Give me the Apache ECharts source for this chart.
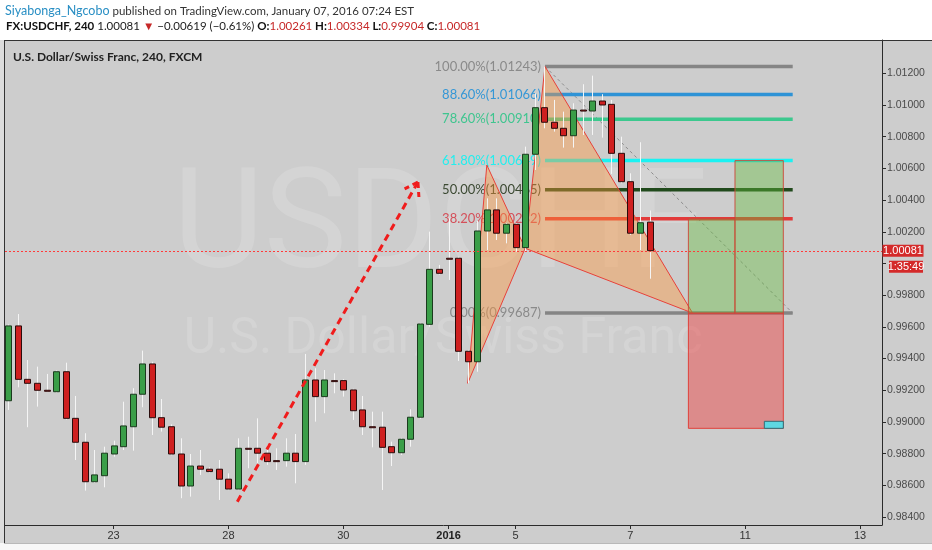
<!DOCTYPE html>
<html><head><meta charset="utf-8">
<script src="https://cdn.jsdelivr.net/npm/echarts@6/dist/echarts.min.js"></script>
<style>html,body{margin:0;padding:0;background:#fff}#c{width:932px;height:550px}</style>
</head><body><div id="c"></div>
<script>
// ---- Data (4h USDCHF candles) ----
const opens  = [0.99134,0.99606,0.99269,0.99244,0.99200,0.99191,0.99317,0.99023,0.98872,0.98623,
                0.98661,0.98798,0.98844,0.98970,0.99175,0.99366,0.99027,0.98970,0.98798,0.98596,
                0.98722,0.98702,0.98702,0.98639,0.98577,0.98834,0.98834,0.98803,0.98756,0.98756,
                0.98803,0.98750,0.99265,0.99160,0.99261,0.99261,0.99202,0.99076,0.98970,0.98967,
                0.98844,0.98806,0.98891,0.99030,0.99616,0.99963,1.00033,1.00033,0.99446,0.99380,
                1.00205,1.00338,1.00191,1.00247,1.00100,1.00689,1.00983,1.00891,1.00853,1.00806,
                1.00968,1.00962,1.01025,1.01004,1.00695,1.00516,1.00191,1.00261];
const highs  = [0.99615,0.99681,0.99391,0.99349,0.99303,0.99325,0.99374,0.99164,0.98929,0.98823,
                0.98844,0.98882,0.99128,0.99213,0.99450,0.99380,0.99145,0.98985,0.98897,0.98798,
                0.98823,0.98714,0.98760,0.98676,0.98897,0.98907,0.99023,0.98855,0.98834,0.98897,
                0.98924,0.99429,0.99339,0.99328,0.99307,0.99270,0.99210,0.99164,0.99065,0.99065,
                0.98876,0.98900,0.99080,0.99625,1.00201,0.99991,1.00285,1.00043,0.99455,1.00268,
                1.00411,1.00411,1.00255,1.00255,1.00737,1.01074,1.01243,1.01032,1.00958,1.01011,
                1.01131,1.01185,1.01068,1.01032,1.00800,1.00569,1.00765,1.00334];
const lows   = [0.99076,0.99219,0.98967,0.99097,0.99191,0.99185,0.99015,0.98760,0.98567,0.98615,
                0.98588,0.98781,0.98823,0.98819,0.99093,0.98918,0.98939,0.98790,0.98519,0.98529,
                0.98666,0.98680,0.98508,0.98570,0.98570,0.98708,0.98740,0.98729,0.98697,0.98718,
                0.98613,0.98729,0.99002,0.99055,0.99181,0.99160,0.99013,0.98918,0.98840,0.98571,
                0.98722,0.98792,0.98844,0.99020,0.99601,0.99930,0.99896,0.99385,0.99244,0.99317,
                1.00085,1.00148,1.00127,1.00074,1.00074,1.00590,1.00853,1.00832,1.00731,1.00731,
                1.00811,1.00811,1.00794,1.00565,1.00506,1.00180,1.00085,0.99904];
const closes = [0.99606,0.99269,0.99244,0.99200,0.99197,0.99317,0.99023,0.98872,0.98623,0.98666,
                0.98803,0.98849,0.98975,0.99175,0.99366,0.99027,0.98967,0.98798,0.98596,0.98722,
                0.98702,0.98687,0.98639,0.98577,0.98834,0.98830,0.98803,0.98750,0.98753,0.98803,
                0.98750,0.99265,0.99160,0.99265,0.99258,0.99202,0.99071,0.98970,0.98967,0.98840,
                0.98806,0.98891,0.99030,0.99618,0.99963,0.99938,1.00030,0.99446,0.99380,1.00205,
                1.00338,1.00191,1.00247,1.00100,1.00689,1.00983,1.00891,1.00853,1.00806,1.00968,
                1.00965,1.01025,1.01000,1.00695,1.00516,1.00191,1.00257,1.00081];

// x-axis day labels (bar index of the label) and price ticks
const xTickIdx    = [11, 23, 35, 46, 53, 65, 77, 89];
const xTickLabels = ['23', '28', '30', '2016', '5', '7', '11', '13'];
const yTicks = [0.984,0.986,0.988,0.990,0.992,0.994,0.996,0.998,1.000,1.002,1.004,1.006,1.008,1.010,1.012];

// Fibonacci retracement
const fibLevels = [1, 0.886, 0.786, 0.618, 0.5, 0.382, 0];
const fibPrices = [1.01243, 1.01066, 1.00910, 1.00649, 1.00465, 1.00282, 0.99687];
const fibSpan   = [56.08, 81.96];

// XABCD harmonic pattern points (bar index, price)
const patternIdx   = [48, 50, 54, 56.08, 71.5];
const patternPrice = [0.99244, 1.00621, 1.00096, 1.01243, 0.99687];

// Long position tool
const posX       = [71.06, 75.93, 80.98];
const posEntry   = [0.99687];
const posTargets = [1.00282, 1.00649];
const posStop    = [0.98960];

// Dashed arrow
const arrowIdx   = [23.93, 42.8];
const arrowPrice = [0.98497, 1.00514];

const lastPrice = closes[closes.length - 1];

// ---- Styles ----
const FONT = 'Lato, "Noto Sans", sans-serif';
const fibLineColors  = ['#858585', '#2e93d6', '#3cc88e', '#1af2f2', '#214a1c', '#e23a3a', '#858585'];
const fibLabelColors = ['#8a8a8a', '#3597d6', '#3fc58f', '#22eeee', '#3c4a33', '#d4505a', '#8a8a8a'];

const chart = echarts.init(document.getElementById('c'));

const option = {
  backgroundColor: '#cdcdcd',
  animation: false,
  grid: { left: 5, top: 40, width: 877, height: 485, show: false },
  xAxis: {
    type: 'value', min: -0.345, max: 91.29,
    axisLine: { show: true, onZero: false, lineStyle: { color: '#2b2b2b', width: 1 } },
    axisTick: { show: true, customValues: xTickIdx, length: 4, lineStyle: { color: '#2b2b2b' } },
    axisLabel: {
      customValues: xTickIdx, margin: 5, color: '#333', fontSize: 11, fontFamily: 'Liberation Sans, Arial, sans-serif',
      formatter: function (v) {
        let k = 0;
        for (let i = 0; i < xTickIdx.length; i++) if (Math.abs(xTickIdx[i] - v) < 1e-6) k = i;
        const s = xTickLabels[k];
        return s === '2016' ? '{b|' + s + '}' : s;
      },
      rich: { b: { fontWeight: 'bold', fontSize: 11, color: '#222', fontFamily: 'Liberation Sans, Arial, sans-serif' } }
    },
    splitLine: { show: false }
  },
  yAxis: {
    type: 'value', position: 'right', min: 0.98350, max: 1.01410,
    axisLine: { show: true, onZero: false, lineStyle: { color: '#2b2b2b', width: 1 } },
    axisTick: { show: true, customValues: yTicks, length: 4, lineStyle: { color: '#2b2b2b' } },
    axisLabel: {
      customValues: yTicks.filter(v => Math.abs(v - 1) > 1e-9),
      formatter: v => v.toFixed(5), margin: 5, color: '#4a4a4a', fontSize: 10.5,
      fontFamily: 'Liberation Sans, Arial, sans-serif'
    },
    splitLine: { show: false }
  },
  series: [
    // Fibonacci levels + labels + trend diagonal
    {
      type: 'custom', z: 3, clip: true, silent: true,
      data: fibPrices.map((p, i) => [fibSpan[0], fibSpan[1], p, i]),
      renderItem: function (params, api) {
        const i = api.value(3);
        const a = api.coord([api.value(0), api.value(2)]);
        const b = api.coord([api.value(1), api.value(2)]);
        const children = [
          { type: 'line', shape: { x1: a[0], y1: a[1], x2: b[0], y2: b[1] }, style: { stroke: fibLineColors[i], lineWidth: 3.5 } },
          { type: 'text', style: { text: (fibLevels[i] * 100).toFixed(2) + '%(' + fibPrices[i].toFixed(5) + ')',
            x: a[0] - 4, y: a[1], align: 'right', verticalAlign: 'middle', fill: fibLabelColors[i], font: '13px ' + FONT } }
        ];
        if (params.dataIndex === 0) {
          const t0 = api.coord([fibSpan[0], fibPrices[0]]);
          const t1 = api.coord([fibSpan[1], fibPrices[fibPrices.length - 1]]);
          children.push({ type: 'line', shape: { x1: t0[0], y1: t0[1], x2: t1[0], y2: t1[1] },
            style: { stroke: '#8c8c8c', lineWidth: 1, lineDash: [3, 3] } });
        }
        return { type: 'group', children: children };
      }
    },
    // Harmonic pattern triangles
    {
      type: 'custom', z: 4, clip: true, silent: true,
      data: patternIdx.map((x, i) => [x, patternPrice[i]]),
      renderItem: function (params, api) {
        if (params.dataIndex !== 0) return null;
        const P = patternIdx.map((x, i) => api.coord([x, patternPrice[i]]));
        const st = { fill: 'rgba(255,150,60,0.42)', stroke: '#e8413a', lineWidth: 1 };
        return { type: 'group', children: [
          { type: 'polygon', shape: { points: [P[0], P[1], P[2]] }, style: st },
          { type: 'polygon', shape: { points: [P[2], P[3], P[4]] }, style: st }
        ] };
      }
    },
    // Long position boxes
    {
      type: 'custom', z: 5, clip: true, silent: true,
      data: posX.map((x) => [x, posEntry[0]]),
      renderItem: function (params, api) {
        if (params.dataIndex !== 0) return null;
        const e0 = api.coord([posX[0], posEntry[0]]);
        const e1 = api.coord([posX[1], posEntry[0]]);
        const e2 = api.coord([posX[2], posEntry[0]]);
        const s = api.coord([posX[2], posStop[0]]);
        const t1 = api.coord([posX[0], posTargets[0]]);
        const t2 = api.coord([posX[1], posTargets[1]]);
        const edge = 'rgba(205,70,55,0.9)';
        return { type: 'group', children: [
          { type: 'rect', shape: { x: e0[0], y: e0[1], width: e2[0] - e0[0], height: s[1] - e0[1] },
            style: { fill: 'rgba(240,60,60,0.45)', stroke: '#e0403a', lineWidth: 1 } },
          { type: 'rect', shape: { x: e0[0], y: t1[1], width: e1[0] - e0[0], height: e0[1] - t1[1] },
            style: { fill: 'rgba(100,190,60,0.40)', stroke: edge, lineWidth: 1 } },
          { type: 'rect', shape: { x: e1[0], y: t2[1], width: e2[0] - e1[0], height: e1[1] - t2[1] },
            style: { fill: 'rgba(100,190,60,0.40)', stroke: edge, lineWidth: 1 } },
          { type: 'rect', shape: { x: s[0] - 19, y: s[1] - 7, width: 19, height: 7 },
            style: { fill: '#5ed8e2', stroke: '#2f6f78', lineWidth: 1 } }
        ] };
      }
    },
    // Candles
    {
      type: 'custom', z: 6, clip: true, silent: true,
      data: opens.map((o, i) => [i, o, closes[i], lows[i], highs[i]]),
      renderItem: function (params, api) {
        const i = api.value(0), o = api.value(1), c = api.value(2), l = api.value(3), h = api.value(4);
        const pO = api.coord([i, o]), pC = api.coord([i, c]), pL = api.coord([i, l]), pH = api.coord([i, h]);
        const x = Math.round(pO[0]) + 0.5;
        const up = c >= o;
        const top = Math.min(pO[1], pC[1]), bot = Math.max(pO[1], pC[1]);
        return { type: 'group', children: [
          { type: 'line', shape: { x1: x, y1: pH[1], x2: x, y2: pL[1] }, style: { stroke: '#f5f5f5', lineWidth: 1 } },
          { type: 'rect', shape: { x: x - 3, y: top, width: 6, height: Math.max(bot - top, 1) },
            style: { fill: up ? '#3a9e48' : '#cf2020', stroke: up ? '#1b3a1e' : '#2a0c0c', lineWidth: 1 } }
        ] };
      }
    },
    // Dashed arrow
    {
      type: 'custom', z: 7, clip: true, silent: true,
      data: arrowIdx.map((x, i) => [x, arrowPrice[i]]),
      renderItem: function (params, api) {
        if (params.dataIndex !== 0) return null;
        const a = api.coord([arrowIdx[0], arrowPrice[0]]);
        const b = api.coord([arrowIdx[1], arrowPrice[1]]);
        const ang = Math.atan2(a[1] - b[1], a[0] - b[0]);
        const L = 15, sp = 0.58;
        const w1 = [b[0] + L * Math.cos(ang + sp), b[1] + L * Math.sin(ang + sp)];
        const w2 = [b[0] + L * Math.cos(ang - sp), b[1] + L * Math.sin(ang - sp)];
        const st = { stroke: '#f01c1c', lineWidth: 3, lineDash: [7, 5] };
        return { type: 'group', children: [
          { type: 'line', shape: { x1: a[0], y1: a[1], x2: b[0], y2: b[1] }, style: st },
          { type: 'line', shape: { x1: b[0], y1: b[1], x2: w1[0], y2: w1[1] }, style: { stroke: '#f01c1c', lineWidth: 3, lineDash: [6, 4] } },
          { type: 'line', shape: { x1: b[0], y1: b[1], x2: w2[0], y2: w2[1] }, style: { stroke: '#f01c1c', lineWidth: 3, lineDash: [6, 4] } }
        ] };
      }
    },
    // Current price dotted line
    {
      type: 'custom', z: 8, silent: true,
      data: [[0, lastPrice]],
      renderItem: function (params, api) {
        const cs = params.coordSys;
        const p = api.coord([0, api.value(1)]);
        const y = Math.round(p[1]) + 0.5;
        return { type: 'line', shape: { x1: cs.x, y1: y, x2: cs.x + cs.width, y2: y },
          style: { stroke: '#ff3a3a', lineWidth: 1, lineDash: [2, 2] } };
      }
    }
  ]
};

chart.setOption(option);

const yLast = chart.convertToPixel({ yAxisIndex: 0 }, lastPrice);
const red = '#c62828';
const hdr = [
  // header areas
  { type: 'rect', shape: { x: 0, y: 0, width: 932, height: 40 }, style: { fill: '#ffffff' }, z: 0 },
  { type: 'rect', shape: { x: 0, y: 543, width: 932, height: 7 }, style: { fill: '#f7f7f7' }, z: 0 },
  { type: 'rect', shape: { x: 0, y: 40, width: 4, height: 503 }, style: { fill: '#dcdcdc' }, z: 0 },
  { type: 'line', shape: { x1: 4, y1: 40.5, x2: 932, y2: 40.5 }, style: { stroke: '#333', lineWidth: 1 }, z: 1 },
  { type: 'line', shape: { x1: 4.5, y1: 40, x2: 4.5, y2: 543 }, style: { stroke: '#333', lineWidth: 1 }, z: 1 },
  { type: 'line', shape: { x1: 4, y1: 543.5, x2: 932, y2: 543.5 }, style: { stroke: '#b8b8b8', lineWidth: 1 }, z: 1 },
  // watermark
  { type: 'text', z: 1, style: { text: 'USDCHF', x: 440, y: 302, align: 'center', verticalAlign: 'bottom',
      font: '140px Roboto, sans-serif', fill: 'rgba(255,255,255,0.15)' } },
  { type: 'text', z: 1, style: { text: 'U.S. Dollar/Swiss Franc', x: 443, y: 365, align: 'center', verticalAlign: 'bottom',
      font: '50px Roboto, sans-serif', fill: 'rgba(255,255,255,0.15)' } },
  // header text
  { type: 'text', z: 2, style: { x: 5, y: 11, verticalAlign: 'middle', text: '{u|Siyabonga_Ngcobo}{t| published on TradingView.com, January 07, 2016 07:24 EST}',
      font: '11.5px ' + FONT,
      rich: { u: { fill: '#2a8fc4', fontSize: 12.5, fontFamily: FONT }, t: { fill: '#333', fontSize: 11.5, fontFamily: FONT } } } },
  { type: 'text', z: 2, style: { x: 6, y: 26, verticalAlign: 'middle',
      text: '{b|FX:USDCHF, 240}{n| ' + lastPrice.toFixed(5) + ' }{r|▼}{n| −0.00619 (−0.61%) }{b|O:}{r|' + opens[opens.length-1].toFixed(5) +
            '}{b| H:}{r|' + highs[highs.length-1].toFixed(5) + '}{b| L:}{r|' + lows[lows.length-1].toFixed(5) + '}{b| C:}{r|' + lastPrice.toFixed(5) + '}',
      font: '11.5px ' + FONT,
      rich: { b: { fill: '#111', fontWeight: 'bold', fontSize: 11.5, fontFamily: FONT },
              n: { fill: '#222', fontSize: 11.5, fontFamily: FONT },
              r: { fill: red, fontSize: 11.5, fontFamily: FONT } } } },
  { type: 'text', z: 2, style: { x: 13, y: 57, verticalAlign: 'middle', text: 'U.S. Dollar/Swiss Franc, 240, FXCM',
      font: 'bold 12px ' + FONT, fill: '#222' } },
  // price labels on axis
  { type: 'rect', z: 20, shape: { x: 882.5, y: yLast - 6, width: 41, height: 12 }, style: { fill: '#d42a2a' } },
  { type: 'text', z: 21, style: { x: 903, y: yLast, align: 'center', verticalAlign: 'middle', text: lastPrice.toFixed(5),
      font: '11px Liberation Sans, Arial, sans-serif', fill: '#ffffff' } },
  { type: 'rect', z: 20, shape: { x: 889, y: yLast + 10, width: 34, height: 12 }, style: { fill: '#d42a2a' } },
  { type: 'text', z: 21, style: { x: 906, y: yLast + 16, align: 'center', verticalAlign: 'middle', text: '1:35:49',
      font: '11px Liberation Sans, Arial, sans-serif', fill: '#ffffff' } }
];
chart.setOption({ graphic: hdr });
</script>
</body></html>
